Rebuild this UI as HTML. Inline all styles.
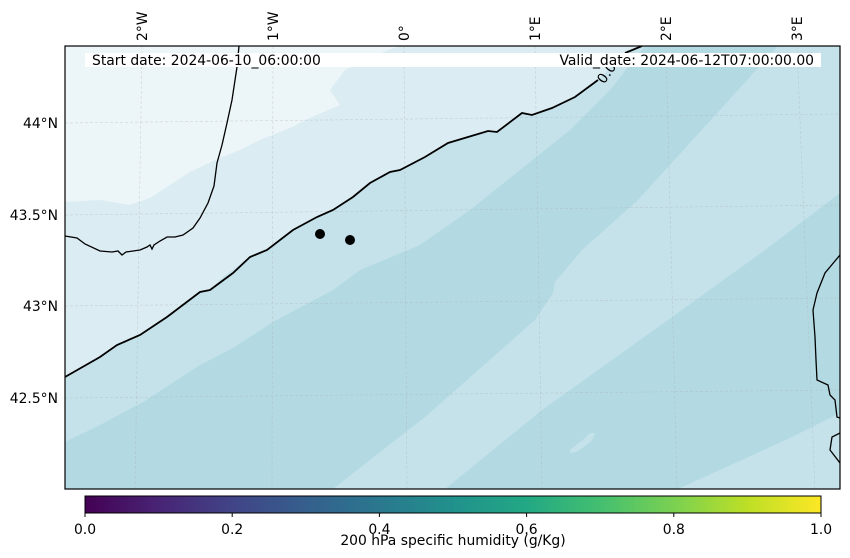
<!DOCTYPE html>
<html><head><meta charset="utf-8"><style>
html,body{margin:0;padding:0;background:#fff;}
svg{display:block;font-family:"DejaVu Sans","Liberation Sans",sans-serif;}
</style></head><body>
<svg id="chart" width="850" height="558" viewBox="0 0 850 558">
<defs>
<linearGradient id="viridis" x1="0" x2="1" y1="0" y2="0">
<stop offset="0" stop-color="#440154"/><stop offset="0.1" stop-color="#482475"/><stop offset="0.2" stop-color="#414487"/><stop offset="0.3" stop-color="#355f8d"/><stop offset="0.4" stop-color="#2a788e"/><stop offset="0.5" stop-color="#21918c"/><stop offset="0.6" stop-color="#22a884"/><stop offset="0.7" stop-color="#44bf70"/><stop offset="0.8" stop-color="#7ad151"/><stop offset="0.9" stop-color="#bddf26"/><stop offset="1" stop-color="#fde725"/>
</linearGradient>
<clipPath id="mapclip"><rect x="65" y="46" width="775" height="443"/></clipPath>
</defs>
<g clip-path="url(#mapclip)">
<rect x="65" y="46" width="775" height="443" fill="#c5e2ea"/>
<polygon fill="#b3dae3" points="65,442 100,425 143,402 200,365 233,348 273,322 333,290 360,270 420,245 470,210 520,170 570,130 610,90 645,46 778,46 720,110 638,200 582,250 555,282 553,293 535,320 475,373 425,417 333,489 65,489"/>
<polygon fill="#b3dae3" points="840,193 765,250 672,317 612,360 542,410 445,489 678,489 742,460 792,437 840,413"/>
<polygon fill="#c5e2ea" points="570,450 575,446 583,440 590,433 595,433 592,440 584,447 576,452 570,453"/>
<polygon fill="#dbecf2" points="65,46 642,46 625,53 598,80 575,97 552,108 532,115 522,113 497,132 488,131 468,137 448,143 425,157 400,170 390,172 370,183 353,197 333,210 317,217 293,230 267,250 250,257 223,277 210,290 200,292 167,317 140,335 117,345 100,357 65,377"/>
<polygon fill="#ecf5f8" points="65,46 400,46 375,55 345,70 330,90 340,105 310,118 290,128 260,140 240,150 215,160 190,172 170,185 150,198 130,205 100,200 65,202"/>
<g id="grid"></g>
<polyline fill="none" stroke="#000" stroke-width="1.8" points="65,377 100,357 117,345 140,335 167,317 200,292 210,290 233,273 250,257 267,250 293,230 317,217 333,210 353,197 370,183 390,172 400,170 425,157 448,143 468,137 488,131 497,132 522,113 532,115 552,108 575,97 598,80"/>
<polyline fill="none" stroke="#000" stroke-width="1.8" points="625,53 642,46"/>
<text x="613" y="72" font-size="13.9" transform="rotate(-55 613 72)" text-anchor="middle" fill="#000">0.06</text>
<polyline fill="none" stroke="#000" stroke-width="1.3" points="65,236 77,238 85,244 100,251 112,252 118,251 122,255 126,252 140,250 147,247 150,245 152,249 154,245 160,241 167,237 175,237 183,235 193,228 200,218 208,203 214,186 217,163 222,145 227,123 232,100 237,67 239,46"/>
<polyline fill="none" stroke="#000" stroke-width="1.3" points="840,255 825,273 817,293 813,310 815,337 816,360 817,380 828,385 830,395 835,400 837,417 840,418"/>
<polyline fill="none" stroke="#000" stroke-width="1.3" points="840,433 832,437 830,450 840,463"/>
<circle cx="320" cy="234" r="5" fill="#000"/>
<circle cx="350" cy="240" r="5" fill="#000"/>
</g>
<rect x="65" y="46" width="775" height="443" fill="none" stroke="#000" stroke-width="1.2"/>
<rect x="85" y="53" width="736" height="14" fill="#fff"/>
<text x="92" y="65" font-size="13.9" fill="#000">Start date: 2024-06-10_06:00:00</text>
<text x="814" y="65" font-size="13.9" fill="#000" text-anchor="end">Valid_date: 2024-06-12T07:00:00.00</text>
<g id="lonlabels"></g>
<g id="latlabels"></g>
<rect x="85" y="496" width="736" height="17" fill="url(#viridis)" stroke="#000" stroke-width="1"/>
<g id="cbticks"></g>
<text x="453" y="545" font-size="13.9" text-anchor="middle" fill="#000">200 hPa specific humidity (g/Kg)</text>
</svg>
<script>
const lonLabels = ["2°W","1°W","0°","1°E","2°E","3°E"];
const lonTopX = [142,273,404,535,666,797];
const lonBotX = [135,272,407,542,677,815];
const latLabels = ["44°N","43.5°N","43°N","42.5°N"];
const latLeftY = [123,215,306,398];
const latRightY = [114,205,298,390];
const cbTicks = [0.0,0.2,0.4,0.6,0.8,1.0];
const cbLabels = ["0.0","0.2","0.4","0.6","0.8","1.0"];
const NS = "http://www.w3.org/2000/svg";
function cbX(v){ return 85 + v*736; }
const grid = document.getElementById('grid');
const lonG = document.getElementById('lonlabels');
const latG = document.getElementById('latlabels');
const cbG = document.getElementById('cbticks');
lonLabels.forEach((lab,i)=>{
  const l = document.createElementNS(NS,'line');
  l.setAttribute('x1',lonTopX[i]); l.setAttribute('y1',46);
  l.setAttribute('x2',lonBotX[i]); l.setAttribute('y2',489);
  l.setAttribute('stroke','#aaa'); l.setAttribute('stroke-opacity','0.45'); l.setAttribute('stroke-width','0.6'); l.setAttribute('stroke-dasharray','3,2');
  
  
  grid.appendChild(l);
  const t = document.createElementNS(NS,'text');
  const x = lonTopX[i]+5, y = 41;
  t.setAttribute('x',x); t.setAttribute('y',y);
  t.setAttribute('transform','rotate(-90 '+x+' '+y+')');
  t.setAttribute('font-size','13.9');
  t.textContent = lab;
  
  
  lonG.appendChild(t);
});
latLabels.forEach((lab,i)=>{
  const l = document.createElementNS(NS,'line');
  l.setAttribute('x1',65); l.setAttribute('y1',latLeftY[i]);
  l.setAttribute('x2',840); l.setAttribute('y2',latRightY[i]);
  l.setAttribute('stroke','#aaa'); l.setAttribute('stroke-opacity','0.45'); l.setAttribute('stroke-width','0.6'); l.setAttribute('stroke-dasharray','3,2');
  
  
  grid.appendChild(l);
  const t = document.createElementNS(NS,'text');
  t.setAttribute('x',58); t.setAttribute('y',latLeftY[i]+5);
  t.setAttribute('text-anchor','end'); t.setAttribute('font-size','13.9');
  t.textContent = lab;
  
  
  latG.appendChild(t);
});
cbTicks.forEach((v,i)=>{
  const x = cbX(v);
  const l = document.createElementNS(NS,'line');
  l.setAttribute('x1',x); l.setAttribute('x2',x); l.setAttribute('y1',513); l.setAttribute('y2',517);
  l.setAttribute('stroke','#000');
  
  
  cbG.appendChild(l);
  const t = document.createElementNS(NS,'text');
  t.setAttribute('x',x); t.setAttribute('y',534);
  t.setAttribute('text-anchor','middle'); t.setAttribute('font-size','13.9');
  t.textContent = cbLabels[i];
  
  
  cbG.appendChild(t);
});
</script>
</body></html>
